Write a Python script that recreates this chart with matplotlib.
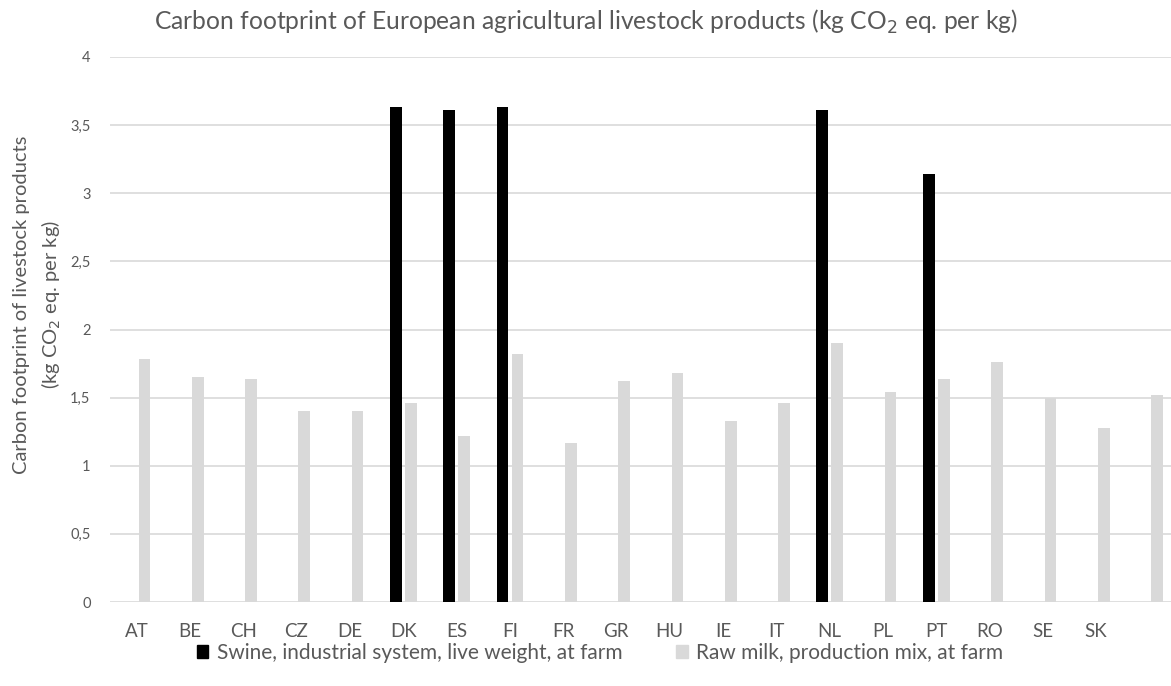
import numpy as np
import matplotlib
matplotlib.use("Agg")
import matplotlib.pyplot as plt
from matplotlib.patches import Patch

plt.rcParams['font.family'] = ['Lato', 'DejaVu Sans']

countries = ['AT', 'BE', 'CH', 'CZ', 'DE', 'DK', 'ES', 'FI', 'FR', 'GR',
             'HU', 'IE', 'IT', 'NL', 'PL', 'PT', 'RO', 'SE', 'SK', '']
swine = [0, 0, 0, 0, 0, 3.63, 3.61, 3.63, 0, 0,
         0, 0, 0, 3.61, 0, 3.14, 0, 0, 0, 0]
milk = [1.78, 1.65, 1.64, 1.40, 1.40, 1.46, 1.22, 1.82, 1.17, 1.62,
        1.68, 1.33, 1.46, 1.90, 1.54, 1.64, 1.76, 1.50, 1.28, 1.52]
yticks = [0, 0.5, 1, 1.5, 2, 2.5, 3, 3.5, 4]
ylabels = ['0', '0,5', '1', '1,5', '2', '2,5', '3', '3,5', '4']

txt = '#595959'
grey = '#d9d9d9'

fig = plt.figure(figsize=(11.71, 6.86), dpi=100)
ax = fig.add_axes([110/1171, 1-602/686, 1066/1171, 545/686])

x = np.arange(len(countries))
w = 0.22
ax.bar(x - 0.135, swine, w, color='black', zorder=3)
ax.bar(x + 0.145, milk, w, color=grey, zorder=3)

ax.set_xlim(-0.5, len(countries) - 0.5)
ax.set_ylim(0, 4)
ax.set_yticks(yticks)
ax.set_yticklabels(ylabels)
ax.set_xticks(x)
ax.set_xticklabels(countries)
ax.yaxis.grid(True, color=grey, linewidth=1.2, zorder=0)
ax.set_axisbelow(True)
for s in ax.spines.values():
    s.set_visible(False)
ax.tick_params(axis='both', length=0, colors=txt)
ax.tick_params(axis='x', pad=15, labelsize=13.5)
ax.tick_params(axis='y', pad=14, labelsize=10.5)

fig.text(38/1171, 1-305/686, 'Carbon footprint of livestock products\n(kg CO$_2$ eq. per kg)',
         rotation=90, ha='center', va='center', fontsize=14.5, color=txt,
         linespacing=1.55, multialignment='center')

fig.text(0.5, 1-22/686, 'Carbon footprint of European agricultural livestock products (kg CO$_2$ eq. per kg)',
         ha='center', va='center', fontsize=17.7, color=txt)

handles = [Patch(color='black'), Patch(color=grey)]
fig.legend(handles, ['Swine, industrial system, live weight, at farm',
                     'Raw milk, production mix, at farm'],
           loc='center', bbox_to_anchor=(600/1171, 1-653/686), ncol=2, frameon=False,
           fontsize=15, labelcolor=txt, handlelength=0.55, handleheight=0.55,
           handletextpad=0.4, columnspacing=2.6)

fig.savefig('out.png', dpi=100)
